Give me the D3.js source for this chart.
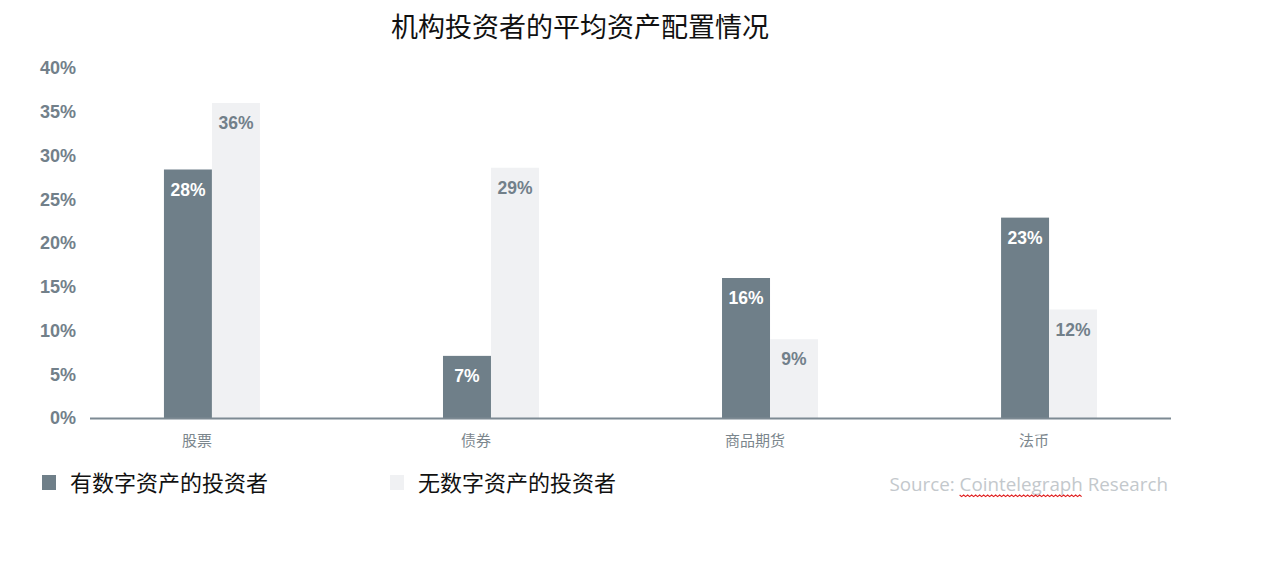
<!DOCTYPE html>
<html>
<head>
<meta charset="utf-8">
<script src="https://cdn.jsdelivr.net/npm/d3@7"></script>
<style>
  body{margin:0;background:#fff;}
  svg{display:block;}
</style>
</head>
<body>
<div id="chart"></div>
<script>
// data
var categories = ["股票", "债券", "商品期货", "法币"];
var seriesNames = ["有数字资产的投资者", "无数字资产的投资者"];
var withDigital = [28.4, 7.1, 16, 22.9];
var withoutDigital = [36, 28.6, 9, 12.4];
var yTicks = [0, 5, 10, 15, 20, 25, 30, 35, 40];
var title = "机构投资者的平均资产配置情况";
var source = "Source: Cointelegraph Research";

var W = 1267, H = 563;
var dark = "#6f7f89", light = "#f0f1f3", tickGray = "#72808a";
var cjk = "'Noto Sans CJK SC', sans-serif";

var svg = d3.select("#chart").append("svg")
    .attr("width", W).attr("height", H);

var x0 = d3.scaleBand().domain(categories)
    .range([90, 1171]).paddingInner(0.656).paddingOuter(0.265);
var x1 = d3.scaleBand().domain(seriesNames).range([0, x0.bandwidth()]);
var y = d3.scaleLinear().domain([0, 40]).range([418, 68]);

// title
svg.append("text")
    .attr("x", 580).attr("y", 37)
    .attr("text-anchor", "middle")
    .style("font-family", cjk).style("font-size", "27px").style("fill", "#111")
    .text(title);

// y axis labels (no line)
var yAxis = d3.axisLeft(y).tickValues(yTicks).tickSize(0).tickPadding(0)
    .tickFormat(function(d){ return d + "%"; });
var gy = svg.append("g").attr("transform", "translate(76,0)").call(yAxis);
gy.select(".domain").remove();
gy.selectAll("text")
    .style("font-family", "'Liberation Sans', Arial, sans-serif")
    .style("font-size", "18px").style("font-weight", "bold").style("fill", tickGray);

// bars
var rows = categories.map(function(c, i){
    return [{cat:c, s:seriesNames[0], v:withDigital[i]}, {cat:c, s:seriesNames[1], v:withoutDigital[i]}];
});
var groups = svg.append("g").selectAll("g").data(rows).enter().append("g")
    .attr("transform", function(d){ return "translate(" + x0(d[0].cat) + ",0)"; });
groups.selectAll("rect").data(function(d){ return d; }).enter().append("rect")
    .attr("x", function(d){ return x1(d.s); })
    .attr("y", function(d){ return y(d.v); })
    .attr("width", x1.bandwidth())
    .attr("height", function(d){ return y(0) - y(d.v); })
    .attr("fill", function(d, i){ return i == 0 ? dark : light; });
groups.selectAll("text").data(function(d){ return d; }).enter().append("text")
    .attr("x", function(d){ return x1(d.s) + x1.bandwidth()/2; })
    .attr("y", function(d){ return y(d.v) + 26; })
    .attr("text-anchor", "middle")
    .style("font-family", "'Liberation Sans', Arial, sans-serif")
    .style("font-size", "17.5px").style("font-weight", "bold")
    .style("fill", function(d, i){ return i == 0 ? "#fff" : tickGray; })
    .text(function(d){ return Math.round(d.v) + "%"; });

// x axis line + category labels
svg.append("line")
    .attr("x1", x0.range()[0]).attr("x2", x0.range()[1])
    .attr("y1", y(0) + 0.5).attr("y2", y(0) + 0.5)
    .attr("stroke", "#7d8a93").attr("stroke-width", 2);
svg.append("g").selectAll("text").data(categories).enter().append("text")
    .attr("x", function(d){ return x0(d) + x0.bandwidth()/2 - 15; })
    .attr("y", 446)
    .attr("text-anchor", "middle")
    .style("font-family", cjk).style("font-size", "15px").style("fill", "#7b868d")
    .text(function(d){ return d; });

// legend
var legX = [42, 390];
var leg = svg.append("g").selectAll("g").data(seriesNames).enter().append("g")
    .attr("transform", function(d, i){ return "translate(" + legX[i] + ",475)"; });
leg.append("rect").attr("width", 14).attr("height", 15)
    .attr("fill", function(d, i){ return i == 0 ? dark : light; });
leg.append("text").attr("x", 28).attr("y", 16)
    .style("font-family", cjk).style("font-size", "22px").style("fill", "#111")
    .text(function(d){ return d; });

// source note, with the spellcheck squiggle under "Cointelegraph"
var src = svg.append("text").attr("x", 1168).attr("y", 491)
    .attr("text-anchor", "end")
    .style("font-family", "'Open Sans', sans-serif").style("font-size", "18.8px").style("fill", "#c3c8cc")
    .text(source);
var node = src.node();
var bb = node.getBBox();
var start = source.indexOf("Cointelegraph");
var sx = bb.x + node.getSubStringLength(0, start);
var sw = node.getSubStringLength(start, "Cointelegraph".length);
var pts = [];
for (var k = 0; k <= Math.floor(sw / 2); k++) pts.push([sx + k*2, 495 + (k % 2 ? 1.6 : 0)]);
svg.append("path").attr("d", d3.line()(pts))
    .attr("fill", "none").attr("stroke", "#e02020").attr("stroke-width", 1.2);
</script>
</body>
</html>
